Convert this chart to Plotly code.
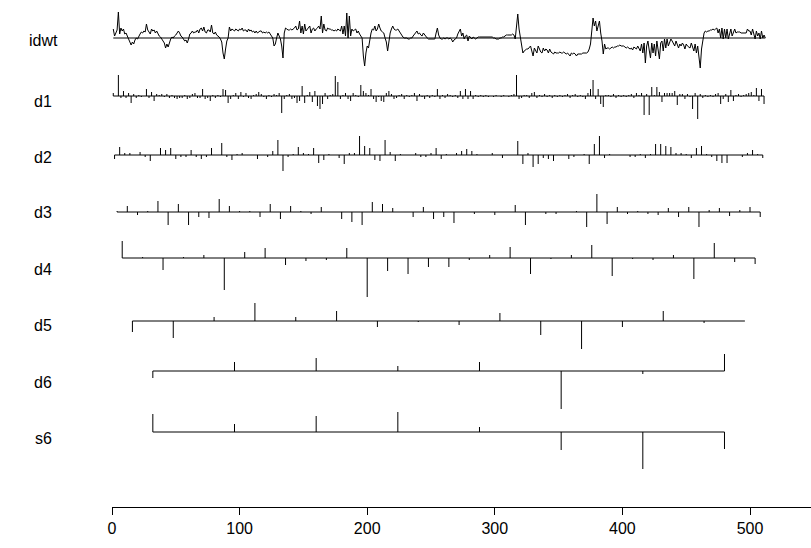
import plotly.graph_objects as go

# reconstructed signal (idwt), one value per sample 1..512 (height above its baseline)
idwt = [
    9, 2, 5, 8, 26, 4, 10, 7, 9, 4,
    5, 2, 0, -4, -7, -4, -6, -2, 0, -1,
    2, 4, 6, 5, 7, 6, 14, 8, 6, 4,
    9, 7, 8, 5, 7, 4, 2, 1, -1, -4,
    -5, -10, -6, -9, -4, -1, 1, 0, 2, 3,
    5, 7, 5, 2, 1, -1, -3, -2, -5, -1,
    4, 5, 7, 5, 6, 6, 8, 5, 9, 10,
    7, 11, 6, 5, 8, 8, 6, 13, 5, 4,
    6, 3, 2, 1, -1, -4, -15, -21, -11, -3,
    0, 11, 7, 9, 8, 7, 9, 8, 7, 9,
    8, 10, 7, 8, 8, 6, 9, 7, 8, 6,
    7, 5, 7, 5, 6, 7, 7, 5, 6, 5,
    6, 5, 6, 4, 2, 0, -8,
    -6, 0, 5, 2, -1, -8, -20, 5, 10, 9,
    8, 8, 9, 8, 9, 10, 12, 8, 9, 17,
    5, 12, 4, 14, 7, 9, 11, 12, 5, 9,
    10, 7, 9, 10, 12, 9, 22, 5, 14, 8,
    7, 10, 9, 9, 8, 8, 7, 8, 7, 9,
    8, 7, 12, 4, 12, 2, 25, 0, 22, 2,
    9, 7, 8, 9, 5, 7, 4, 2, 0, -18,
    -28, -15, -8, -10, -1, 5, 9, 8, 12, 7,
    9, 14, 10, 7, 6, 5, 0, -4, -13, -1,
    5, 9, 12, 9, 8, 8, 9, 7, 5, 2,
    1, 0, 0, 0, -1, -1, 0, 0, 2, 4,
    5, 7, 4, 5, 3, 2, 5, 3, 1, 0,
    -1, -1, -1, -1, -1, -1, 5, 10, 3, 0,
    -1, -1, 0, -1, 0, 0, -1, 0, -1, -4,
    -2, -1, 0, 4, 6, 9, 2, 5, -1, 2,
    3, -3, 2, 0, -1, 1, 0, -1, 0, 1,
    1, 1, 1, 1, 1, 1, 1, 1, 1, 1,
    1, 0, 0, -1, -1, -1, 0, 0, 1, 1,
    2, 3, 3, 3, 3, 3, 4, 3, -1, 12,
    24, 9, 2, -8, -15, -13, -12, -11, -11, -9,
    -8, -13, -18, -10, -13, -15, -8, -11, -14, -15,
    -10, -13, -11, -12, -15, -11, -14, -15, -16, -14,
    -15, -15, -15, -14, -15, -15, -14, -15, -16, -15,
    -17, -18, -15, -16, -15, -16, -18, -16, -16, -16,
    -16, -15, -15, -15, -15, -14, -11, -6, 5, 20,
    12, 17, 7, 12, 17, 5, -3, -16, -6,
    -11, -10, -10, -11, -10, -9, -10, -9, -9, -8,
    -8, -7, -8, -8, -8, -9, -10, -9, -10, -11,
    -10, -12, -9, -10, -11, -8, -10, -13, -6, -15,
    -5, -25, -8, -3, -12, -20, -5, -15, -6, -18,
    -3, -11, -21, -5, -3, -13, -1, -10, -1, -8,
    -3, -1, -3, -5, -8, -3, -6, -10, -6, -8,
    -5, -7, -11, -6, -8, -9, -10, -5, -9, -13,
    -6, -15, -8, -23, -30, -11, 0, 5, 7, 6,
    7, 7, 8, 8, 9, 8, 9, 10, 5, 9,
    0, 10, -1, 9, 0, 9, -1, 4, 9, 2,
    7, 9, 5, 6, 6, 6, 5, 5, 5, 5,
    5, 9, 7, 7, 3, 9, 4, -1, 7, 2,
    5, -1, 7, 0, 3, 0,
]

# wavelet coefficients per level
d1 = [
    3, 0, 21, -2, 5, -2, 3, -7, 2, -2, 1, -1, 0, 7, -2, 4,
    -5, 2, 1, 2, -1, 2, -2, 1, -2, -3, -2, -2, 1, -3, -2, 2,
    3, -2, -2, 7, -3, -2, -5, 1, -2, 1, -1, 7, 6, -7, -3, 1,
    3, -3, 4, -1, 3, -2, -3, 1, 2, 4, 2, -1, -3, 1, -1, 2,
    1, 3, -17, -3, 1, 2, -3, -2, -7, -5, 10, -7, 1, 4, -6, 5,
    -10, -13, -8, 3, -3, 1, 2, 20, 14, -3, 1, 3, -3, -5, 3, 1,
    -1, 11, 5, 3, 1, 7, -3, -6, -1, -5, -6, 3, 5, 2, -3, -2,
    1, 2, -3, 1, -1, 1, 3, -5, 2, -1, -3, 1, -2, 1, -1, 7,
    -3, 1, -2, 2, 1, -1, 1, -2, 5, -3, 7, -3, 5, -3, 1, -1,
    1, -1, 1, -1, 0, -1, 1, 0, -1, 1, 0, -1, 1, 2, 21, -3,
    -2, 1, 1, -2, 3, 4, -2, 1, -1, 2, -1, 1, -2, 1, -1, 1,
    -1, 1, 2, -2, 1, 2, -1, 1, -1, -3, 3, 7, 16, -3, 7, -8,
    -11, 1, 1, -1, 2, -2, 1, -1, 1, -1, 1, 2, -2, 3, 1, 3,
    -19, 2, -19, 9, 1, 9, 4, -6, 3, 3, 3, 3, 5, -9, 2, 2,
    -3, 2, -1, -13, 3, -23, 2, -2, 1, -1, 1, -1, 2, 3, -8, -3,
    2, -6, 6, -5, 1, 2, -1, 1, 2, 3, 4, 1, 8, -5, 7, -8,
]
d2 = [
    -4, 8, 2, 2, 0, 3, -2, -6, 0, 7, 5, 7, -4, -2, -2, 5,
    -2, -4, -2, 7, 0, 12, -2, -5, 1, 2, 0, 0, -4, 0, -2, 4,
    15, -16, -2, 1, 8, 2, 1, 7, -8, -5, 1, 0, -3, -9, 2, 2,
    19, 9, 7, -5, -6, 15, 3, -6, 1, 0, 0, 2, -2, -2, 2, 7,
    -4, 1, 0, 2, 4, 6, 4, 1, 0, 0, 2, 0, -3, 0, 0, 14,
    -9, 2, -12, -9, -3, -4, -6, 0, 0, -4, -2, 0, 1, -9, 11, 19,
    -3, 1, 0, 0, 0, -2, -2, 1, -3, 1, 11, 11, 9, 8, 2, 2,
    1, -3, 7, 9, 1, -2, -6, -8, -8, 0, 0, -2, 2, 5, 1, -3,
]
d3 = [
    1, 6, -3, 1, 11, -13, 8, -13, -5, -6, 13, 6, 1, 1, -5, 8,
    -7, 6, 1, -2, 5, 0, -7, -10, -13, 10, 8, 4, 0, -5, 5, -7,
    -5, -11, 0, -2, 0, -3, 0, 7, -13, 0, -2, -2, 0, 1, -15, 18,
    -12, 5, -2, 1, -2, -3, 4, -5, 5, -15, 2, 4, -4, 2, 5, -5,
]
d4 = [
    17, 1, -12, 1, 3, -32, 6, 10, -7, -3, -2, 10, -39, -13, -16, -9,
    -9, -2, 3, 11, -16, -1, 3, 13, -18, -1, -2, 3, -21, 15, -4, -6,
]
d5 = [-11, -17, 4, 18, 4, 10, -6, -1, -4, 8, -14, -28, -6, 10, -2, 0]
d6 = [-7, 9, 13, 5, 9, -38, -3, 17]
s6 = [18, 8, 16, 20, 5, -18, -37, -17]

row_names = ["idwt", "d1", "d2", "d3", "d4", "d5", "d6", "s6"]
x_ticks = [0, 100, 200, 300, 400, 500]

# layout: vertical placement of each row (axis units = screen rows)
baselines = [38, 96, 155, 212, 258, 321, 371, 432]
label_y = [41, 101, 157, 213, 269, 325, 382, 438]
levels = [(d1, 1, 2), (d2, 2, 4), (d3, 4, 8), (d4, 8, 16),
          (d5, 16, 32), (d6, 32, 64), (s6, 32, 64)]

LINE = dict(color="black", width=1)
FONT = "Liberation Sans, Arial, Helvetica, sans-serif"
PLOT_TOP, PLOT_BOTTOM = 0, 507


def sticks(vals, start, step, base):
    pos = [start + step * i for i in range(len(vals))]
    xs, ys = [pos[0], pos[-1], None], [base, base, None]
    for p, v in zip(pos, vals):
        xs += [p, p, None]
        ys += [base, base - v, None]
    return xs, ys


fig = go.Figure()

n = len(idwt)
fig.add_trace(go.Scatter(x=[1, n], y=[baselines[0]] * 2, mode="lines",
                         line=LINE, hoverinfo="skip"))
fig.add_trace(go.Scatter(x=list(range(1, n + 1)),
                         y=[baselines[0] - v for v in idwt],
                         mode="lines", line=LINE, hoverinfo="skip"))

for (vals, start, step), base in zip(levels, baselines[1:]):
    xs, ys = sticks(vals, start, step, base)
    fig.add_trace(go.Scatter(x=xs, y=ys, mode="lines", line=LINE,
                             hoverinfo="skip"))

# row names sit in the left margin, so place them in paper coordinates
for name, yl in zip(row_names, label_y):
    fig.add_annotation(x=-0.0987, y=1 - (yl - PLOT_TOP) / (PLOT_BOTTOM - PLOT_TOP),
                       xref="paper", yref="paper", text=name,
                       showarrow=False, xanchor="center", yanchor="middle",
                       font=dict(size=16, color="black", family=FONT))

fig.update_xaxes(range=[0, 547.8], tickvals=x_ticks,
                 showline=True, linecolor="black", linewidth=1,
                 ticks="outside", ticklen=7, tickcolor="black",
                 showgrid=False, zeroline=False,
                 tickfont=dict(size=16, color="black", family=FONT))
fig.update_yaxes(range=[PLOT_BOTTOM, PLOT_TOP], visible=False)
fig.update_layout(
    width=811, height=548,
    margin=dict(l=112, r=0, t=0, b=41),
    plot_bgcolor="white", paper_bgcolor="white",
    showlegend=False,
)

fig.write_html("out.html",
               config={"displayModeBar": False},
               post_script="document.body.style.margin='0';")
